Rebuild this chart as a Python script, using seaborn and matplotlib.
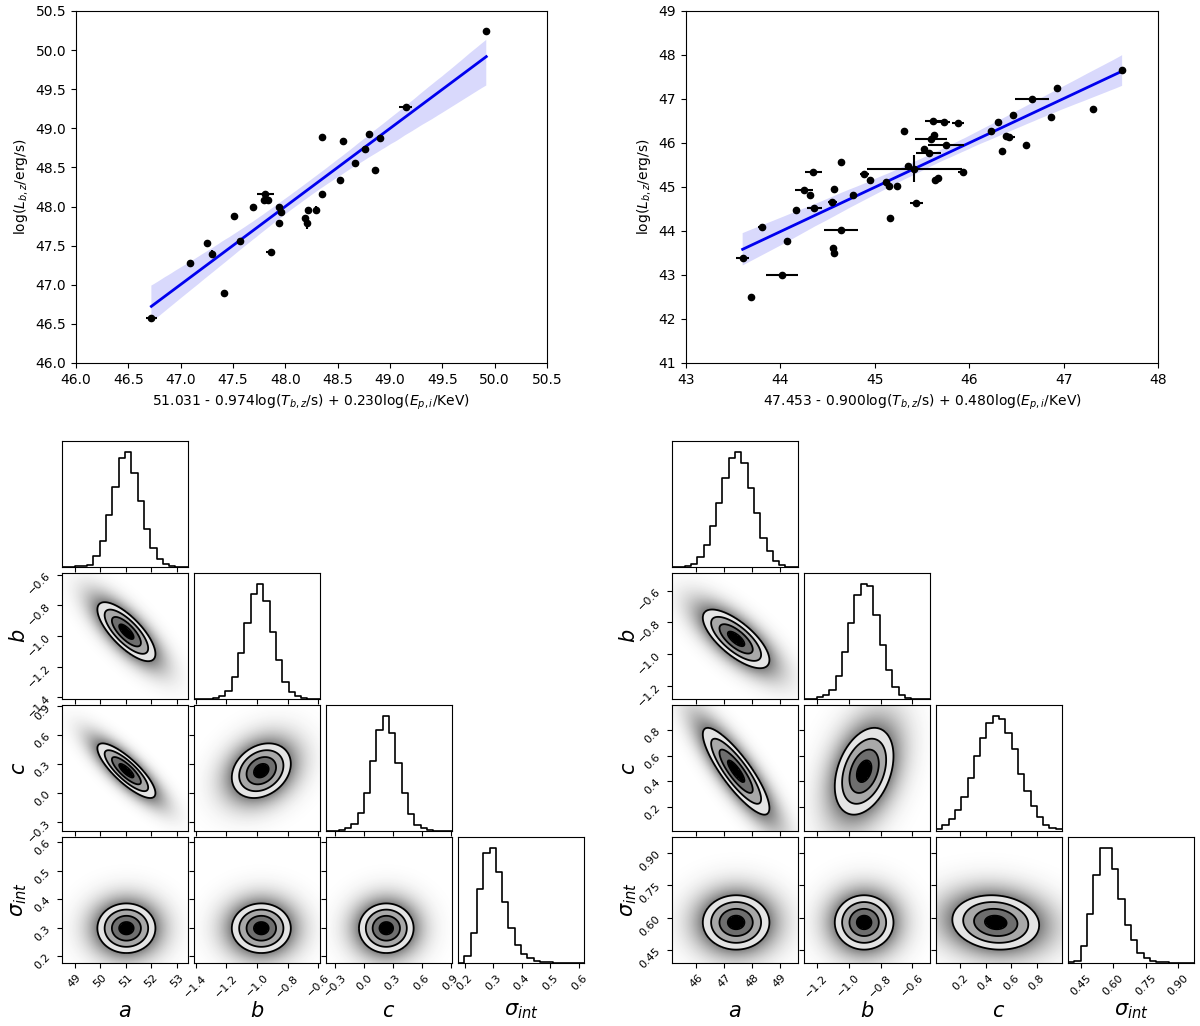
import numpy as np
import pandas as pd
import matplotlib
matplotlib.use('Agg')
import matplotlib.pyplot as plt
import seaborn as sns

# ---- top panels: data points ----
left_x = [46.72, 47.09, 47.25, 47.30, 47.41, 47.51, 47.57, 47.69, 47.81, 47.80,
          47.83, 47.86, 47.94, 47.96, 47.94, 48.19, 48.21, 48.22, 48.29, 48.35,
          48.35, 48.52, 48.55, 48.67, 48.76, 48.80, 48.86, 48.90, 49.15, 49.92]
left_y = [46.57, 47.28, 47.53, 47.39, 46.89, 47.88, 47.56, 47.99, 48.16, 48.09,
          48.09, 47.42, 48.00, 47.93, 47.79, 47.86, 47.79, 47.96, 47.96, 48.89,
          48.16, 48.34, 48.84, 48.56, 48.73, 48.93, 48.47, 48.88, 49.27, 50.24]
left_xerr = [0.05, 0.01, 0.01, 0.01, 0.01, 0.02, 0.01, 0.01, 0.08, 0.02,
             0.02, 0.04, 0.02, 0.02, 0.01, 0.02, 0.02, 0.01, 0.02, 0.01,
             0.01, 0.01, 0.01, 0.01, 0.01, 0.02, 0.01, 0.01, 0.06, 0.01]
left_yerr = [0.02, 0.01, 0.01, 0.05, 0.01, 0.04, 0.01, 0.01, 0.02, 0.02,
             0.02, 0.01, 0.02, 0.02, 0.01, 0.02, 0.08, 0.01, 0.05, 0.01,
             0.01, 0.01, 0.01, 0.01, 0.01, 0.04, 0.01, 0.01, 0.01, 0.01]

right_x = [43.60, 43.69, 43.80, 44.02, 44.07, 44.16, 44.25, 44.31, 44.35, 44.36,
           44.55, 44.57, 44.56, 44.57, 44.64, 44.64, 44.77, 44.89, 44.95, 45.12,
           45.15, 45.23, 45.16, 45.31, 45.35, 45.42, 45.44, 45.52, 45.57, 45.60,
           45.63, 45.62, 45.73, 45.75, 45.64, 45.67, 45.88, 45.93, 46.23, 46.30,
           46.35, 46.39, 46.42, 46.46, 46.60, 46.67, 46.87, 46.93, 47.31, 47.62]
right_y = [43.39, 42.50, 44.08, 43.01, 43.77, 44.48, 44.94, 44.81, 45.35, 44.52,
           44.67, 44.95, 43.61, 43.51, 44.02, 45.56, 44.82, 45.30, 45.15, 45.12,
           45.03, 45.02, 44.30, 46.27, 45.47, 45.42, 44.63, 45.86, 45.77, 46.08,
           46.19, 46.51, 46.48, 45.96, 45.17, 45.20, 46.46, 45.35, 46.27, 46.48,
           45.82, 46.17, 46.14, 46.64, 45.95, 47.01, 46.58, 47.26, 46.77, 47.65]
right_xerr = [0.07, 0.01, 0.04, 0.17, 0.01, 0.01, 0.10, 0.03, 0.09, 0.08,
              0.05, 0.01, 0.01, 0.03, 0.18, 0.01, 0.01, 0.05, 0.02, 0.02,
              0.02, 0.03, 0.01, 0.01, 0.02, 0.50, 0.07, 0.02, 0.13, 0.17,
              0.02, 0.09, 0.07, 0.19, 0.02, 0.03, 0.06, 0.05, 0.01, 0.01,
              0.01, 0.02, 0.06, 0.01, 0.01, 0.18, 0.01, 0.01, 0.01, 0.01]
right_yerr = [0.01, 0.01, 0.01, 0.01, 0.01, 0.01, 0.01, 0.02, 0.03, 0.05,
              0.02, 0.01, 0.02, 0.05, 0.01, 0.01, 0.01, 0.03, 0.01, 0.02,
              0.01, 0.01, 0.01, 0.01, 0.01, 0.30, 0.05, 0.01, 0.01, 0.01,
              0.03, 0.01, 0.01, 0.01, 0.01, 0.01, 0.02, 0.05, 0.01, 0.01,
              0.01, 0.02, 0.01, 0.01, 0.01, 0.01, 0.01, 0.01, 0.01, 0.01]

left_xlabel = r'51.031 - 0.974log($T_{b,z}$/s) + 0.230log($E_{p,i}$/KeV)'
right_xlabel = r'47.453 - 0.900log($T_{b,z}$/s) + 0.480log($E_{p,i}$/KeV)'
ylabel_top = r'log($L_{b,z}$/erg/s)'

# ---- corner plots: histogram heights and posterior summaries ----
param_labels = ['$a$', '$b$', '$c$', r'$\sigma_{int}$']

left_range = [(48.5, 53.45), (-1.41, -0.59), (-0.395, 0.915), (0.176, 0.618)]
left_ticks = [[49, 50, 51, 52, 53], [-1.4, -1.2, -1.0, -0.8, -0.6],
              [-0.3, 0.0, 0.3, 0.6, 0.9], [0.2, 0.3, 0.4, 0.5, 0.6]]
left_hists = [
    [0, 1, 2, 4, 7, 34, 78, 154, 240, 325, 342, 282, 198, 113, 58, 25, 8, 3, 1, 0],
    [0, 0, 1, 4, 8, 25, 65, 137, 227, 312, 340, 292, 200, 115, 50, 22, 8, 3, 1, 0],
    [0, 1, 3, 8, 20, 54, 113, 209, 302, 342, 294, 202, 113, 52, 18, 8, 3, 1, 0, 0],
    [0, 20, 90, 223, 330, 343, 273, 183, 105, 55, 28, 15, 7, 4, 2, 1, 0, 0, 0, 0],
]
left_mean = [51.03, -0.972, 0.232, 0.298]
left_sd = [0.57, 0.096, 0.142, 0.0435]
left_corr = [[1.0, -0.75, -0.82, 0.0],
             [-0.75, 1.0, 0.25, 0.0],
             [-0.82, 0.25, 1.0, 0.0],
             [0.0, 0.0, 0.0, 1.0]]

right_range = [(45.12, 49.66), (-1.28, -0.49), (0.01, 0.997), (0.39, 0.974)]
right_ticks = [[46, 47, 48, 49], [-1.2, -1.0, -0.8, -0.6],
               [0.2, 0.4, 0.6, 0.8], [0.45, 0.60, 0.75, 0.90]]
right_hists = [
    [0, 1, 4, 10, 30, 67, 123, 190, 267, 325, 342, 310, 235, 160, 88, 47, 18, 5, 1, 0],
    [0, 1, 5, 12, 28, 70, 140, 227, 312, 342, 337, 252, 160, 88, 37, 12, 4, 1, 0, 0],
    [7, 19, 35, 63, 102, 158, 223, 275, 320, 340, 332, 290, 242, 170, 118, 75, 42, 18, 10, 6],
    [2, 7, 51, 145, 261, 341, 341, 280, 191, 112, 69, 29, 14, 7, 3, 2, 1, 0, 0, 0],
]
right_mean = [47.43, -0.903, 0.478, 0.578]
right_sd = [0.6, 0.092, 0.17, 0.063]
right_corr = [[1.0, -0.72, -0.85, 0.0],
              [-0.72, 1.0, 0.35, 0.0],
              [-0.85, 0.35, 1.0, -0.1],
              [0.0, 0.0, -0.1, 1.0]]

fill_colors = ['#000000', '#6e6e6e', '#a8a8a8', '#e4e4e4']

W, H = 1200, 1026
fig = plt.figure(figsize=(W / 100, H / 100), dpi=100)


def px_axes(x0, y0, w, h):
    return fig.add_axes([x0 / W, 1 - (y0 + h) / H, w / W, h / H])


def top_panel(ax, xs, ys, xerr, yerr, xlim, ylim, xticks, yticks, xlabel):
    df = pd.DataFrame({'x': xs, 'y': ys})
    sns.regplot(data=df, x='x', y='y', scatter=False, ci=95, seed=3,
                color='#0000ee', line_kws={'lw': 2}, ax=ax)
    ax.errorbar(xs, ys, xerr=xerr, yerr=yerr, fmt='o', color='k', ms=4.5,
                elinewidth=1.5, capsize=0, zorder=4)
    ax.set_xlim(xlim)
    ax.set_ylim(ylim)
    ax.set_xticks(xticks)
    ax.set_yticks(yticks)
    ax.set_xlabel(xlabel)
    ax.set_ylabel(ylabel_top)


ax_l = px_axes(76, 11, 471, 352)
top_panel(ax_l, left_x, left_y, left_xerr, left_yerr, (46.0, 50.5), (46.0, 50.5),
          np.arange(46.0, 50.6, 0.5), np.arange(46.0, 50.6, 0.5), left_xlabel)

ax_r = px_axes(686, 11, 472, 352)
top_panel(ax_r, right_x, right_y, right_xerr, right_yerr, (43, 48), (41, 49),
          [43, 44, 45, 46, 47, 48], [41, 42, 43, 44, 45, 46, 47, 48, 49], right_xlabel)


def corner(x_start, rng, ticks, hists, mean, sd, corr):
    cols = [x_start + 132 * k for k in range(4)]
    rows = [441 + 132 * k for k in range(4)]
    n = 4
    for i in range(n):
        for j in range(i + 1):
            ax = px_axes(cols[j], rows[i], 126, 126)
            if i == j:
                nb = len(hists[i])
                width = (rng[i][1] - rng[i][0]) / nb
                centers = rng[i][0] + width * (np.arange(nb) + 0.5)
                hdf = pd.DataFrame({'v': centers, 'w': hists[i]})
                sns.histplot(data=hdf, x='v', weights='w', bins=nb, binrange=rng[i],
                             element='step', fill=False, color='k', linewidth=1.2, ax=ax)
                ax.set_ylim(0, 1.1 * max(hists[i]))
                ax.set_yticks([])
                ax.set_ylabel('')
            else:
                gx = np.linspace(rng[j][0], rng[j][1], 220)
                gy = np.linspace(rng[i][0], rng[i][1], 220)
                X, Y = np.meshgrid(gx, gy)
                rho = corr[i][j]
                u = (X - mean[j]) / sd[j]
                v = (Y - mean[i]) / sd[i]
                r2 = (u * u - 2 * rho * u * v + v * v) / (1 - rho * rho)
                # grey haze standing in for the cloud of samples
                alpha = np.clip(0.6 * np.exp(-0.22 * (r2 - 4.0)), 0, 0.6)
                rgba = np.zeros(r2.shape + (4,))
                rgba[..., :3] = 0.15
                rgba[..., 3] = alpha
                ax.imshow(rgba, extent=(rng[j][0], rng[j][1], rng[i][0], rng[i][1]),
                          origin='lower', aspect='auto', interpolation='bilinear', zorder=1)
                ax.contourf(X, Y, r2, levels=[0, 0.25, 1.0, 2.25, 4.0],
                            colors=fill_colors, zorder=2)
                ax.contour(X, Y, r2, levels=[0.25, 1.0, 2.25, 4.0], colors='k',
                           linewidths=1.3, zorder=3)
                ax.set_ylim(rng[i])
                ax.set_yticks(ticks[i])
            ax.set_xlim(rng[j])
            ax.set_xticks(ticks[j])
            ax.tick_params(labelsize=8)
            for lab in ax.get_xticklabels() + ax.get_yticklabels():
                lab.set_rotation(45)
            if i == n - 1:
                ax.set_xlabel(param_labels[j], fontsize=15)
                ax.xaxis.set_label_coords(0.5, -0.3)
            else:
                ax.set_xticklabels([])
                ax.set_xlabel('')
            if j == 0 and i > 0:
                ax.set_ylabel(param_labels[i], fontsize=15)
                ax.yaxis.set_label_coords(-0.26, 0.5)
            elif i != j:
                ax.set_yticklabels([])


corner(62, left_range, left_ticks, left_hists, left_mean, left_sd, left_corr)
corner(672, right_range, right_ticks, right_hists, right_mean, right_sd, right_corr)

fig.savefig('out.png', dpi=100)
